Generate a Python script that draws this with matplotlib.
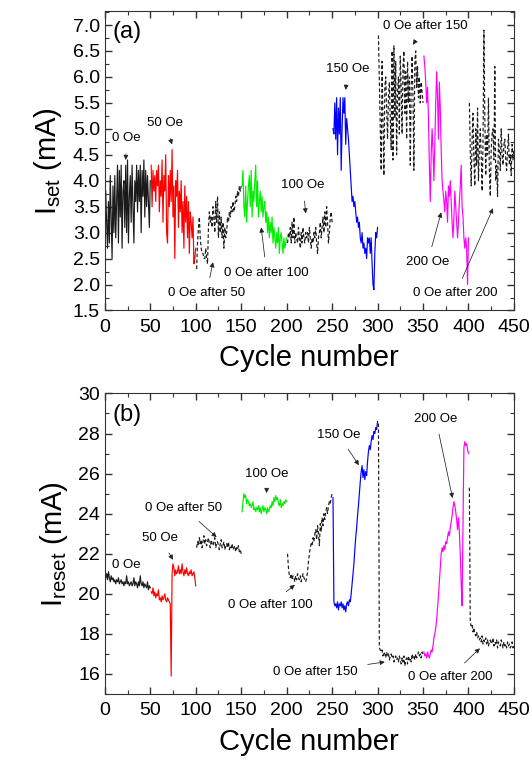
import numpy as np
import matplotlib
matplotlib.use('Agg')
import matplotlib.pyplot as plt

plt.rcParams['font.family'] = ['Liberation Sans', 'DejaVu Sans']
plt.rcParams['mathtext.fontset'] = 'custom'
plt.rcParams['mathtext.rm'] = 'Liberation Sans'

# cycle numbers: 9 blocks of 50 cycles
cycles = np.arange(1, 451)

# ---- panel (a): I_set (mA) ----
set_0 = [3.8, 3.2, 2.7, 3.6, 2.8, 4.1, 3.3, 2.5, 3.9, 3.0, 4.1, 2.9, 3.6, 4.3, 2.8, 4.2, 3.3, 4.3, 2.7, 3.8,
         4.0, 3.1, 4.3, 3.0, 4.4, 2.8, 3.7, 4.1, 3.2, 4.3, 3.5, 2.8, 4.0, 3.6, 4.3, 3.4, 4.2, 3.6, 4.3, 3.0,
         4.2, 3.7, 4.4, 3.3, 4.2, 3.5, 4.1, 3.6, 3.1, 4.0]
set_50 = [4.3, 3.5, 4.2, 3.8, 4.1, 3.6, 4.2, 3.9, 4.3, 3.4, 4.0, 3.7, 4.4, 3.2, 4.1, 3.8, 4.5, 3.0, 2.8, 4.1,
          3.5, 4.2, 3.6, 4.6, 3.3, 3.9, 2.5, 4.0, 3.7, 4.2, 3.1, 3.8, 3.4, 4.0, 3.0, 3.6, 2.7, 3.9, 3.2, 3.7,
          2.9, 3.6, 2.6, 3.4, 3.2, 2.9, 3.3, 2.4, 2.5, 2.7]
set_0_after50 = [2.3, 2.8, 3.1, 3.3, 2.9, 2.7, 2.6, 2.6, 2.5, 2.5, 2.7, 2.5, 2.4, 3.1, 3.4, 3.2, 3.3, 3.1, 3.5, 3.3,
                 3.0, 3.6, 3.2, 3.7, 2.9, 3.4, 3.0, 3.3, 2.9, 3.2, 2.7, 3.1, 2.9, 3.0, 3.3, 3.2, 3.4, 3.3, 3.5, 3.4,
                 3.6, 3.4, 3.5, 3.7, 3.6, 3.8, 3.7, 3.9, 3.8, 3.9]
set_100 = [3.9, 4.2, 3.5, 3.3, 3.9, 3.2, 3.6, 3.9, 4.1, 3.5, 4.2, 3.3, 3.8, 3.6, 4.0, 4.3, 3.5, 4.0, 3.3, 3.6,
           3.8, 3.4, 3.7, 3.3, 3.5, 3.6, 3.2, 3.4, 3.0, 3.3, 2.9, 3.2, 3.0, 3.3, 2.8, 3.1, 2.9, 2.7, 3.0, 2.8,
           3.1, 2.6, 2.9, 3.0, 2.8, 2.6, 2.9, 2.7, 2.8, 2.9]
set_0_after100 = [2.8, 3.0, 2.9, 3.1, 2.8, 3.2, 2.9, 3.3, 2.8, 3.0, 2.9, 2.8, 3.1, 2.9, 2.7, 3.0, 2.8, 3.1, 2.9, 2.8,
                  3.0, 2.9, 3.0, 2.8, 3.1, 2.9, 2.7, 2.9, 2.8, 3.0, 2.9, 3.1, 2.8, 2.6, 2.9, 3.0, 3.2, 2.9, 3.1, 3.3,
                  3.0, 3.4, 3.1, 3.5, 3.2, 2.8, 3.0, 3.3, 3.4, 3.2]
set_150 = [5.0, 4.9, 5.5, 4.8, 5.6, 4.5, 5.4, 4.9, 5.6, 4.2, 5.0, 5.6, 5.3, 5.6, 4.7, 5.2, 5.0, 4.8, 4.5, 4.2,
           3.9, 3.6, 3.7, 3.5, 3.6, 3.4, 3.2, 3.3, 3.1, 3.2, 2.9, 2.8, 3.0, 2.7, 2.8, 2.6, 2.7, 2.5, 2.9, 2.8,
           2.9, 2.6, 2.9, 2.4, 2.0, 1.9, 2.6, 3.0, 2.9, 3.1]
set_0_after150 = [6.8, 5.9, 5.0, 4.2, 6.3, 5.1, 4.1, 5.8, 6.0, 5.4, 4.8, 5.6, 5.9, 5.2, 4.6, 6.5, 4.4, 6.6, 5.2, 6.3,
                  4.5, 5.7, 6.0, 4.9, 6.4, 5.8, 4.9, 6.2, 6.5, 5.3, 6.1, 4.8, 6.3, 5.5, 6.0, 4.3, 5.8, 6.4, 5.6, 4.2,
                  6.3, 6.5, 5.8, 6.2, 5.6, 6.0, 5.5, 5.9, 5.7, 5.5]
set_200 = [6.4, 6.2, 5.9, 5.5, 5.8, 5.2, 4.3, 3.6, 4.5, 5.0, 4.6, 4.0, 4.7, 5.5, 6.1, 5.6, 4.8, 5.9, 5.4, 4.6,
           4.0, 3.8, 3.6, 3.4, 3.8, 3.6, 3.2, 3.9, 3.7, 4.0, 3.6, 3.2, 2.9, 3.3, 3.8, 3.5, 3.2, 2.9, 3.2, 3.6,
           3.9, 4.3, 3.5, 3.3, 2.9, 2.7, 2.9, 2.7, 2.0, 2.9]
set_0_after200 = [5.5, 4.6, 3.9, 4.8, 5.3, 4.4, 3.9, 5.0, 4.3, 5.4, 4.0, 4.6, 5.0, 4.5, 3.8, 4.7, 6.9, 5.2, 4.1, 4.9,
                  4.5, 5.6, 4.2, 3.7, 4.6, 4.9, 5.0, 4.4, 6.2, 4.0, 4.3, 3.7, 4.8, 4.6, 4.2, 5.0, 4.5, 4.3, 4.7, 4.8,
                  4.4, 4.2, 4.6, 4.9, 4.3, 4.5, 4.1, 4.7, 4.4, 4.6]

# ---- panel (b): I_reset (mA) ----
reset_0 = [20.8, 21.0, 20.7, 21.1, 20.8, 20.6, 20.9, 20.7, 20.8, 20.6, 20.7, 20.5, 20.7, 20.6, 20.8, 20.5, 20.6, 20.7,
           20.5, 20.6, 20.4, 20.6, 20.5, 20.9, 20.5, 20.6, 20.4, 20.5, 20.6, 20.4, 20.5, 20.8, 20.4, 20.6, 20.5, 20.3,
           20.6, 20.4, 20.9, 20.5, 20.4, 20.6, 20.3, 20.5, 20.4, 20.3, 20.6, 20.2, 20.4, 20.3]
reset_50 = [20.1, 20.0, 20.3, 19.9, 20.1, 19.8, 20.0, 19.9, 20.2, 19.7, 19.8, 19.6, 19.9, 19.7, 19.8, 20.0, 19.7, 19.6,
            19.8, 19.7, 19.6, 19.5, 15.9, 21.0, 21.5, 21.3, 20.9, 21.2, 21.0, 21.1, 21.4, 21.0, 21.2, 21.0, 21.5, 21.1,
            20.9, 21.2, 21.0, 21.3, 21.0, 20.9, 21.1, 21.0, 21.2, 20.9, 21.0, 21.1, 20.8, 20.4]
reset_0_after50 = [22.3, 22.6, 22.4, 22.8, 22.5, 22.7, 22.3, 22.6, 22.9, 22.5, 22.7, 22.4, 22.6, 22.8, 22.5, 22.3, 22.7,
                   22.5, 22.4, 22.6, 22.8, 22.3, 22.5, 22.6, 22.4, 22.2, 22.5, 22.7, 22.3, 22.4, 22.6, 22.2, 22.4, 22.5,
                   22.3, 22.6, 22.2, 22.4, 22.3, 22.5, 22.2, 22.3, 22.4, 22.1, 22.3, 22.2, 22.4, 22.1, 22.2, 22.0]
reset_100 = [24.1, 24.6, 25.0, 24.8, 24.9, 24.5, 24.7, 24.6, 24.4, 24.5, 24.3, 24.4, 24.6, 24.2, 24.3, 24.1, 24.3, 24.2,
             24.4, 24.1, 24.3, 24.0, 24.2, 24.4, 24.1, 24.3, 24.2, 24.0, 24.3, 24.1, 24.2, 24.4, 24.3, 24.6, 24.4, 24.8,
             24.6, 24.9, 24.7, 24.8, 24.5, 24.4, 24.7, 24.3, 24.5, 24.4, 24.6, 24.5, 24.7, 24.6]
reset_0_after100 = [22.0, 21.3, 20.9, 20.8, 21.0, 20.7, 20.9, 20.8, 20.6, 20.9, 20.7, 21.0, 20.8, 20.7, 20.9, 20.6, 20.8,
                    21.0, 20.8, 20.7, 20.6, 20.8, 21.1, 21.6, 22.0, 22.3, 22.5, 22.4, 22.8, 22.6, 23.0, 23.2, 22.7, 23.4,
                    23.0, 22.4, 23.5, 23.1, 23.8, 23.4, 24.0, 23.7, 24.1, 24.3, 24.0, 24.4, 24.6, 24.5, 24.8, 25.0]
reset_150 = [24.8, 19.6, 19.4, 19.5, 19.3, 19.6, 19.2, 19.5, 19.4, 19.6, 19.3, 19.5, 19.2, 19.4, 19.1, 19.5, 19.6, 19.4,
             19.7, 19.6, 20.0, 20.5, 21.0, 21.5, 22.2, 22.8, 23.3, 23.9, 24.4, 25.0, 25.6, 26.1, 26.4, 25.8, 26.2, 25.7,
             26.1, 25.9, 26.6, 27.1, 27.4, 27.2, 27.6, 27.9, 27.7, 28.1, 28.0, 28.3, 28.2, 28.6]
reset_0_after150 = [28.5, 17.3, 17.2, 17.1, 17.2, 16.9, 17.1, 17.0, 16.8, 17.1, 16.9, 17.0, 16.7, 16.9, 17.0, 16.8, 16.9,
                    16.6, 16.8, 16.9, 16.7, 16.8, 16.6, 16.9, 16.7, 16.5, 16.8, 16.6, 16.9, 16.4, 16.7, 16.8, 16.5, 16.9,
                    16.7, 16.8, 16.6, 17.0, 16.8, 16.9, 16.7, 17.0, 16.8, 16.9, 17.1, 16.9, 17.0, 16.8, 17.1, 17.0]
reset_200 = [17.1, 16.9, 17.0, 16.8, 17.1, 16.9, 16.8, 17.0, 17.2, 17.1, 17.4, 17.8, 18.0, 18.3, 18.7, 19.3, 19.9, 20.6,
             21.3, 22.0, 22.3, 22.1, 22.4, 22.2, 22.6, 22.5, 22.8, 23.1, 22.9, 23.3, 23.6, 23.9, 24.3, 24.6, 24.4, 24.1,
             23.7, 23.2, 23.8, 23.1, 22.0, 20.5, 19.4, 23.5, 27.3, 27.6, 27.4, 27.5, 27.2, 27.0]
reset_0_after200 = [25.3, 18.6, 18.4, 18.5, 18.1, 18.3, 18.0, 17.9, 18.1, 17.8, 17.9, 17.7, 17.8, 17.6, 17.9, 17.5, 17.7,
                    17.6, 17.8, 17.5, 17.7, 17.4, 17.6, 17.7, 17.5, 17.6, 17.8, 17.4, 17.6, 17.5, 17.7, 17.3, 17.6, 17.5,
                    17.4, 17.7, 17.5, 17.3, 17.6, 17.4, 17.5, 17.3, 17.6, 17.4, 17.5, 17.3, 17.4, 17.6, 17.3, 17.4]

set_blocks = [set_0, set_50, set_0_after50, set_100, set_0_after100,
              set_150, set_0_after150, set_200, set_0_after200]
reset_blocks = [reset_0, reset_50, reset_0_after50, reset_100, reset_0_after100,
                reset_150, reset_0_after150, reset_200, reset_0_after200]
block_colors = ['#1a1a1a', '#ff0000', '#1a1a1a', '#00ee00', '#1a1a1a', '#0000ff', '#1a1a1a', '#ff00ff', '#1a1a1a']
block_styles = ['-', '-', '--', '-', '--', '-', '--', '-', '--']

# annotations: (text, text xy, arrow tip or None)
notes_a = [('0 Oe', (24, 4.82), (23, 4.4)),
           ('50 Oe', (66, 5.11), (74, 4.7)),
           ('0 Oe after 50', (112, 1.83), (119, 2.43)),
           ('0 Oe after 100', (178, 2.23), (172, 3.1)),
           ('100 Oe', (218, 3.91), (221, 3.37)),
           ('150 Oe', (267, 6.15), (265, 5.75)),
           ('0 Oe after 150', (352, 6.98), (339, 6.62)),
           ('200 Oe', (355, 2.43), (370, 3.39)),
           ('0 Oe after 200', (386, 1.83), (427, 3.47))]
notes_b = [('0 Oe', (24, 21.45), None),
           ('50 Oe', (61, 22.78), (75, 21.7)),
           ('0 Oe after 50', (87, 24.28), (123, 22.83)),
           ('100 Oe', (178, 26.0), (178, 25.03)),
           ('0 Oe after 100', (182, 19.45), (209, 20.45)),
           ('150 Oe', (257, 27.95), (279.5, 26.42)),
           ('200 Oe', (364, 28.75), (382.5, 24.78)),
           ('0 Oe after 150', (232, 16.1), (308, 16.6)),
           ('0 Oe after 200', (380, 15.87), (412.6, 17.28))]

fig = plt.figure(figsize=(5.32, 7.64), dpi=100)
ax1 = fig.add_axes([0.197, 0.5936, 0.769, 0.392])
ax2 = fig.add_axes([0.197, 0.0916, 0.769, 0.3934])


def draw_panel(ax, blocks, notes, ylim, major, minor, label, tag):
    for i, vals in enumerate(blocks):
        x = cycles[i * 50:(i + 1) * 50]
        line, = ax.plot(x, vals, color=block_colors[i], linestyle=block_styles[i], lw=0.85)
        if block_styles[i] == '--':
            line.set_dashes((3, 2))
    for txt, xy, tip in notes:
        if tip is None:
            ax.text(xy[0], xy[1], txt, fontsize=9.5, ha='center', va='center')
        else:
            ax.annotate(txt, xy=tip, xytext=xy, fontsize=9.5, ha='center', va='center',
                        arrowprops=dict(arrowstyle='-|>', color='#222222', lw=0.55,
                                        mutation_scale=7, shrinkA=5, shrinkB=0))
    ax.set_xlim(0, 450)
    ax.set_ylim(*ylim)
    ax.set_xticks(np.arange(0, 451, 50))
    ax.set_xticks(np.arange(25, 450, 50), minor=True)
    ax.set_yticks(major)
    ax.set_yticks(minor, minor=True)
    ax.tick_params(which='both', direction='in', top=True, right=True, labelsize=14, color='#333333')
    ax.tick_params(which='major', length=5, width=1)
    ax.tick_params(which='minor', length=3, width=0.8)
    ax.tick_params(axis='x', pad=6)
    for s in ax.spines.values():
        s.set_color('#333333')
    ax.set_xlabel('Cycle number', fontsize=21, labelpad=6)
    ax.set_ylabel(label, fontsize=21, labelpad=6)
    ax.text(0.018, 0.965, tag, transform=ax.transAxes, fontsize=17, ha='left', va='top')


draw_panel(ax1, set_blocks, notes_a, (1.5, 7.27),
           np.arange(1.5, 7.01, 0.5), np.arange(1.75, 7.27, 0.5),
           r'$\mathregular{I_{set}}$ (mA)', '(a)')
ax1.yaxis.set_major_formatter(matplotlib.ticker.FormatStrFormatter('%.1f'))
draw_panel(ax2, reset_blocks, notes_b, (15, 30),
           np.arange(16, 31, 2), np.arange(15, 30, 2),
           r'$\mathregular{I_{reset}}$ (mA)', '(b)')

fig.savefig('out.png', dpi=100)
